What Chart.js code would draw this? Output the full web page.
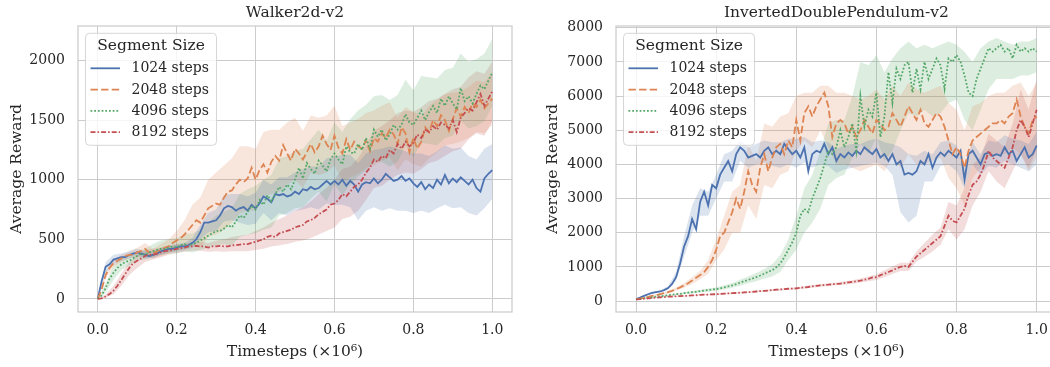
<!DOCTYPE html>
<html>
<head>
<meta charset="utf-8">
<script src="https://cdn.jsdelivr.net/npm/chart.js@4.4.1/dist/chart.umd.min.js"></script>
<style>
  html, body { margin: 0; padding: 0; background: #fff; overflow: hidden; width: 1050px; height: 367px; }
  canvas { position: absolute; top: 0; }
  #walkerChart { left: 0; }
  #pendulumChart { left: 525px; }
</style>
</head>
<body>
<canvas id="walkerChart" width="525" height="367"></canvas>
<canvas id="pendulumChart" width="545" height="367"></canvas>
<script>
// timesteps in millions: mean curves every 0.01, shaded bands every 0.02
const steps = Array.from({ length: 101 }, (_, i) => i / 100);
const bandSteps = Array.from({ length: 51 }, (_, i) => i / 50);

const segmentLabels = ["1024 steps", "2048 steps", "4096 steps", "8192 steps"];
const xTicks = [0, 0.2, 0.4, 0.6, 0.8, 1.0];
const walkerTicks = [0, 500, 1000, 1500, 2000];
const pendulumTicks = [0, 1000, 2000, 3000, 4000, 5000, 6000, 7000, 8000];

// Walker2d-v2
const walker1024 = [0,150,270,290,330,340,350,350,370,380, 390,380,370,360,370,380,400,410,420,420,
  430,440,440,450,470,500,560,640,640,650, 660,700,760,780,770,740,760,770,740,790,
  760,800,860,840,810,880,870,880,860,870, 900,880,920,910,940,920,930,960,990,960,
  990,960,1000,950,990,960,900,960,980,970, 1010,970,1000,1050,1020,990,1000,1030,990,1010,
  970,940,980,920,960,930,1000,960,1040,970, 1010,980,1020,990,960,1000,930,900,1010,1050, 1080];
const walker2048 = [0,80,200,260,300,320,340,360,370,370, 390,400,420,390,380,400,410,430,440,470,
  490,510,540,580,620,660,640,700,760,780, 800,790,850,900,910,960,1000,980,1010,1100,
  1000,1080,1130,1060,1150,1200,1160,1290,1220,1160, 1260,1220,1170,1230,1300,1230,1280,1370,1300,1250,
  1370,1270,1220,1340,1250,1320,1280,1260,1330,1240, 1350,1320,1390,1350,1420,1380,1300,1440,1390,1230,
  1350,1260,1320,1440,1400,1500,1450,1540,1500,1410, 1510,1600,1530,1610,1560,1640,1610,1670,1600,1640, 1680];
const walker4096 = [0,30,90,170,220,260,290,310,320,340, 360,380,370,390,400,410,420,420,430,440,
  430,450,460,440,460,470,490,510,530,550, 570,570,590,620,600,650,700,680,730,780,
  750,830,790,870,820,880,940,900,960,920, 1000,1100,1010,1140,1090,1050,1160,1120,1070,1170,
  1220,1170,1130,1280,1230,1220,1300,1250,1350,1260, 1420,1360,1420,1330,1380,1460,1420,1460,1550,1480,
  1460,1520,1580,1500,1570,1620,1560,1680,1620,1700, 1640,1590,1770,1660,1700,1640,1720,1790,1760,1830, 1900];
const walker8192 = [0,5,20,40,70,110,160,210,260,300, 320,340,360,370,370,380,390,400,405,410,
  420,425,430,440,440,445,440,440,430,440, 440,445,440,440,450,450,455,460,460,470,
  480,490,500,520,530,520,550,560,570,580, 600,610,620,650,660,680,710,730,750,790,
  800,830,880,860,900,940,960,1000,1060,1100, 1170,1150,1200,1180,1250,1220,1300,1260,1320,1280,
  1310,1380,1350,1420,1400,1450,1420,1480,1460,1430, 1500,1400,1520,1560,1600,1580,1650,1720,1620,1680, 1740];

const walker1024Lo = [0,220,290,320,340,360,340,345,370,390,400,410,430,500,560,570,650,660,640,620,630,720,660,720,700,740,750,770,750,800,790,790,770,660,740,770,740,760,740,740,720,740,720,760,790,760,770,720,700,760,840];
const walker1024Hi = [0,310,370,380,400,420,400,400,430,450,460,470,510,620,720,750,870,880,880,860,890,1000,960,1020,1020,1060,1090,1110,1110,1180,1190,1210,1210,1140,1220,1250,1260,1280,1260,1240,1220,1220,1200,1240,1290,1260,1270,1200,1170,1260,1300];
const walker2048Lo = [0,170,270,310,340,350,370,340,360,380,410,420,450,430,520,540,580,640,720,740,740,860,880,900,960,1000,930,1060,1040,1060,1120,990,1020,1050,1100,1120,1160,1190,1080,1170,1130,1110,1180,1230,1290,1300,1320,1350,1400,1390,1460];
const walker2048Hi = [0,230,330,370,400,430,470,420,460,500,570,660,790,850,1000,1060,1120,1180,1280,1280,1260,1400,1420,1420,1480,1520,1410,1540,1520,1540,1620,1450,1480,1510,1560,1580,1620,1650,1520,1610,1570,1530,1620,1670,1720,1730,1740,1780,1830,1820,1900];
const walker4096Lo = [0,50,160,240,280,320,330,350,370,380,380,400,390,410,430,450,460,450,520,540,550,580,600,700,720,760,770,840,900,820,960,870,960,1030,1080,1150,1150,1110,1150,1280,1190,1310,1300,1290,1350,1370,1500,1430,1450,1490,1620];
const walker4096Hi = [0,130,280,340,360,400,420,460,490,500,510,540,550,580,640,700,730,760,880,920,950,1000,1040,1180,1200,1240,1260,1340,1420,1330,1480,1400,1510,1580,1630,1700,1710,1670,1710,1840,1750,1870,1860,1850,1920,1940,2060,1990,2010,2060,2180];
const walker8192Lo = [0,10,40,110,200,260,310,330,350,370,385,395,405,405,395,400,395,400,400,400,410,420,440,450,460,480,490,510,540,570,600,670,690,740,830,930,950,1000,1040,1060,1050,1090,1140,1160,1200,1240,1260,1340,1390,1370,1490];
const walker8192Hi = [0,40,110,210,310,370,410,420,430,440,455,465,475,480,470,490,500,520,530,540,570,600,640,670,700,740,770,820,880,930,1000,1090,1110,1180,1290,1410,1450,1500,1560,1580,1570,1610,1660,1680,1720,1760,1780,1860,1910,1890,1990];

// InvertedDoublePendulum-v2
const pendulum1024 = [60,100,150,200,240,260,280,320,380,500, 700,1100,1600,1900,2400,2100,2900,3200,2800,3400,
  3300,3700,3900,4100,3800,4300,4500,4400,4200,4250, 4300,4200,4400,4500,4300,4400,4300,4600,4450,4300,
  4400,4200,4500,3800,4300,4400,4350,4600,4300,4500, 4100,4300,4200,4350,4250,4400,4300,4500,4400,4300,
  4450,4200,4300,4100,4300,4000,4100,3700,3750,3700, 3800,4100,4000,4300,3900,4200,4350,4250,4400,4300,
  4200,4400,3550,4300,4400,4200,4000,4300,4350,4250, 4300,4250,4500,4300,4400,4100,4300,4500,4200,4300, 4550];
const pendulum2048 = [50,70,100,120,150,170,200,230,260,300, 350,400,460,520,600,680,760,850,1000,1200,
  1500,1900,2000,2300,2600,3000,2700,3200,3800,3400, 3200,3900,4300,3800,4200,4500,4600,4300,4700,4500,
  5300,4700,5500,5700,5400,5700,5900,6100,5700,4800, 5200,5300,5200,4900,5100,4800,5000,5300,5100,4900,
  5300,5200,5000,5100,5500,5300,5100,5400,5700,5500, 5300,5600,5200,5100,5300,5500,5400,5100,4700,4300,
  4500,4300,3900,4400,4700,4800,4900,5000,5100,5200, 5200,5300,5200,5400,5500,5900,5400,5100,4900,5300, 5400];
const pendulum4096 = [50,62,80,93,110,128,140,157,170,188, 200,212,230,248,260,272,290,306,320,338,
  350,372,400,428,460,498,540,583,620,655, 700,748,800,860,900,990,1100,1280,1500,1720,
  2000,2500,2700,2600,3000,3300,3600,4000,4400,4300, 4500,5000,4500,4800,5200,4400,6000,5100,5600,5400,
  6100,4800,5400,6700,5800,6800,6500,6900,7000,6100, 6800,6200,7000,6500,6800,7100,6900,6200,7100,7000,
  7200,7000,6600,6100,6000,6500,6800,7100,7400,7300, 7400,7500,7300,7400,7100,7500,7300,7400,7300,7400, 7300];
const pendulum8192 = [50,58,70,79,90,98,110,118,130,133, 140,146,150,157,165,170,180,186,190,196,
  200,207,215,224,230,236,245,253,260,268, 280,291,300,308,320,333,340,348,360,366,
  370,388,400,412,430,447,460,468,480,495, 500,512,530,548,560,578,600,625,650,690,
  700,760,800,850,900,955,1000,1030,1000,1150, 1300,1400,1500,1600,1700,1800,1900,2200,2500,2350,
  2300,2500,2700,3100,3400,3500,3700,4000,4400,4200, 4100,4000,3900,4200,4500,5000,5300,5100,4800,5200, 5600];

const pendulum1024Lo = [50,130,210,250,330,600,1300,2000,2500,2500,3000,3500,3500,4100,3900,4000,4050,3950,3900,4000,3900,4050,3900,4000,3950,3750,3850,3900,3950,4000,4050,3950,3700,2600,2300,2500,3500,3500,3950,4000,3800,3300,4000,3700,3950,3900,4100,4000,3900,3800,4000];
const pendulum1024Hi = [70,170,270,310,430,850,1900,2800,3300,3200,3700,4300,4400,4700,4500,4600,4700,4650,4650,4750,4750,4800,4650,4700,4650,4450,4550,4600,4600,4700,4750,4650,4600,4500,4300,4250,4400,4300,4650,4700,4550,4000,4650,4300,4700,4650,4850,4750,4700,4600,4950];
const pendulum2048Lo = [40,80,130,170,220,300,390,500,640,800,1200,1500,2000,2000,2800,2400,3400,3300,3700,3800,4400,4700,4500,5000,4500,4000,4000,3900,3800,3900,4000,3800,4200,3900,4300,4000,4000,4100,4200,3600,3300,2800,3600,3900,4200,4300,4300,4500,4300,3800,4200];
const pendulum2048Hi = [60,120,170,230,300,400,530,700,880,1200,1800,2500,3200,3400,4600,4100,5200,5100,5400,5500,6000,6100,6100,6300,6300,6100,6100,6000,5900,6000,6200,5900,6300,6000,6400,6200,6100,6200,6300,5800,5600,5000,5700,5800,6000,6100,6100,6300,6400,6000,6400];
const pendulum4096Lo = [40,70,95,120,150,175,200,225,250,275,300,340,390,450,520,580,660,720,850,1200,1500,2000,2300,2700,3400,3600,3700,4200,4600,4300,4800,4100,4400,5000,5500,5400,5600,5400,5500,5800,5900,5300,5000,5600,6200,6500,6500,6500,6600,6600,6700];
const pendulum4096Hi = [60,90,125,160,190,225,260,295,330,365,400,460,530,630,720,820,940,1080,1350,1800,2500,3300,3700,4400,5200,5300,5300,6000,7000,6900,7200,6700,7100,7400,7600,7400,7500,7400,7500,7600,7500,7300,7000,7400,7600,7700,7600,7500,7600,7600,7700];
const pendulum8192Lo = [40,60,80,100,115,125,135,150,160,170,180,195,210,225,240,255,275,295,310,330,340,370,390,420,440,460,480,510,540,580,620,700,790,880,880,1150,1300,1450,1650,2100,1800,2100,2800,3200,3800,3500,3300,3800,4300,3900,4400];
const pendulum8192Hi = [60,80,100,120,145,155,165,180,200,210,220,235,250,265,280,305,325,345,370,390,400,430,470,500,520,540,580,610,660,720,780,900,1010,1120,1120,1450,1700,1950,2150,2900,2800,3300,4000,4200,4900,4700,4500,5200,6200,5600,6500];

const colors = ["#4C72B0", "#DD8452", "#55A868", "#C44E52"];
const bandColors = ["rgba(76,114,176,0.2)", "rgba(221,132,82,0.2)", "rgba(85,168,104,0.2)", "rgba(196,78,82,0.2)"];
const dashes = [[], [7.4, 3.2], [1.8, 1.9], [5, 2, 1.6, 2]];
const textColor = "#262626";
const gridColor = "#cccccc";
const serif = "'DejaVu Serif', serif";
const labelSize = 15.5;
const tickSize = 14;

function buildDatasets(means, lows, highs) {
    const lines = means.map((m, k) => ({
        label: segmentLabels[k],
        data: steps.map((x, i) => ({ x, y: m[i] })),
        borderColor: colors[k],
        borderWidth: 1.8,
        borderDash: dashes[k],
        borderCapStyle: "butt",
        pointRadius: 0,
        fill: false,
        order: 3 - k
    }));
    const bands = [];
    means.forEach((m, k) => {
        const loIndex = means.length + bands.length;
        bands.push({
            label: "",
            data: bandSteps.map((x, i) => ({ x, y: lows[k][i] })),
            borderWidth: 0,
            borderColor: "transparent",
            pointRadius: 0,
            fill: false,
            order: 10 + k
        });
        bands.push({
            label: "",
            data: bandSteps.map((x, i) => ({ x, y: highs[k][i] })),
            borderWidth: 0,
            borderColor: "transparent",
            backgroundColor: bandColors[k],
            pointRadius: 0,
            fill: loIndex,
            order: 10 + k
        });
    });
    return lines.concat(bands);
}

// light frame around the plotting area
const framePlugin = {
    id: "frame",
    beforeDatasetsDraw(chart) {
        const { ctx, chartArea: a } = chart;
        ctx.save();
        ctx.strokeStyle = gridColor;
        ctx.lineWidth = 1.25;
        ctx.strokeRect(a.left, a.top, a.right - a.left, a.bottom - a.top);
        ctx.restore();
    }
};

// legend box in the top-left corner with line samples
const legendPlugin = {
    id: "segmentLegend",
    afterDraw(chart) {
        const { ctx, chartArea: a } = chart;
        const x0 = a.left + 7.5, y0 = a.top + 7.3, w = 131, h = 112;
        ctx.save();
        ctx.beginPath();
        ctx.roundRect(x0, y0, w, h, 4);
        ctx.fillStyle = "rgba(255,255,255,0.8)";
        ctx.fill();
        ctx.strokeStyle = "rgba(204,204,204,0.8)";
        ctx.lineWidth = 1;
        ctx.stroke();
        ctx.fillStyle = textColor;
        ctx.textBaseline = "middle";
        ctx.textAlign = "center";
        ctx.font = labelSize + "px " + serif;
        ctx.fillText("Segment Size", x0 + w / 2, y0 + 12.6);
        ctx.textAlign = "left";
        ctx.font = tickSize + "px " + serif;
        segmentLabels.forEach((label, k) => {
            const y = y0 + 35 + k * 21.3;
            ctx.beginPath();
            ctx.setLineDash(dashes[k]);
            ctx.lineCap = "butt";
            ctx.strokeStyle = colors[k];
            ctx.lineWidth = 1.8;
            ctx.moveTo(x0 + 5, y);
            ctx.lineTo(x0 + 34.5, y);
            ctx.stroke();
            ctx.setLineDash([]);
            ctx.fillText(label, x0 + 46, y + 0.5);
        });
        ctx.restore();
    }
};

function makeChart(id, title, datasets, yMin, yMax, yTicks, yAxisWidth, yTitlePad, padRight) {
    return new Chart(document.getElementById(id), {
        type: "line",
        data: { datasets },
        options: {
            responsive: false,
            animation: false,
            layout: { padding: { right: padRight } },
            plugins: {
                legend: { display: false },
                tooltip: { enabled: false },
                title: {
                    display: true, text: title, color: textColor, fullSize: false,
                    font: { family: serif, size: labelSize, weight: "normal" },
                    padding: { top: 3.6, bottom: 3.8 }
                }
            },
            scales: {
                x: {
                    type: "linear", min: -0.05, max: 1.05,
                    afterFit: s => { s.height = 55; },
                    afterBuildTicks: s => { s.ticks = xTicks.map(value => ({ value })); },
                    grid: { color: gridColor, lineWidth: 1, drawTicks: false },
                    border: { display: false },
                    ticks: { color: textColor, padding: 10, font: { family: serif, size: tickSize }, callback: v => v.toFixed(1), maxRotation: 0 },
                    title: { display: true, text: "Timesteps (×10⁶)", color: textColor, font: { family: serif, size: labelSize }, padding: { bottom: 5.7 } }
                },
                y: {
                    min: yMin, max: yMax,
                    afterFit: s => { s.width = yAxisWidth; },
                    afterBuildTicks: s => { s.ticks = yTicks.map(value => ({ value })); },
                    grid: { color: gridColor, lineWidth: 1, drawTicks: false },
                    border: { display: false },
                    ticks: { color: textColor, padding: 13, font: { family: serif, size: tickSize }, callback: v => String(v) },
                    title: { display: true, text: "Average Reward", color: textColor, font: { family: serif, size: labelSize }, padding: { top: yTitlePad } }
                }
            }
        },
        plugins: [framePlugin, legendPlugin]
    });
}

makeChart("walkerChart", "Walker2d-v2",
    buildDatasets([walker1024, walker2048, walker4096, walker8192],
        [walker1024Lo, walker2048Lo, walker4096Lo, walker8192Lo],
        [walker1024Hi, walker2048Hi, walker4096Hi, walker8192Hi]),
    -110, 2290, walkerTicks, 78, 7.4, 13);

makeChart("pendulumChart", "InvertedDoublePendulum-v2",
    buildDatasets([pendulum1024, pendulum2048, pendulum4096, pendulum8192],
        [pendulum1024Lo, pendulum2048Lo, pendulum4096Lo, pendulum8192Lo],
        [pendulum1024Hi, pendulum2048Hi, pendulum4096Hi, pendulum8192Hi]),
    -320, 8050, pendulumTicks, 91, 18.4, 13.3);
</script>
</body>
</html>
